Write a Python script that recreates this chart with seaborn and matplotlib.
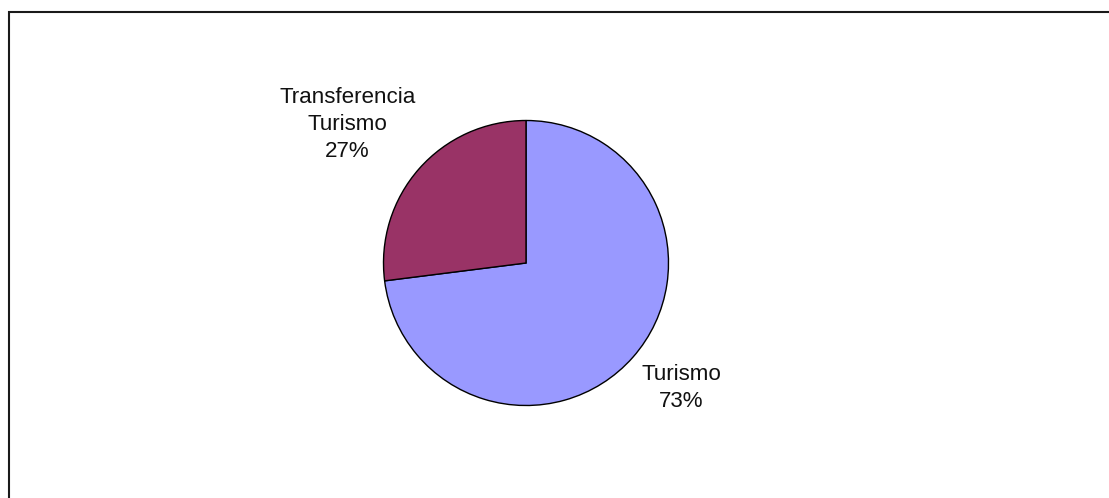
import numpy as np
import matplotlib
matplotlib.use("Agg")
import matplotlib.pyplot as plt
import matplotlib.patches as mpatches
import seaborn as sns

# data
labels = ["Turismo", "Transferencia\nTurismo"]
shares = [73, 27]
colors = ["#9999FF", "#993366"]

sns.set_style("white")
plt.rcParams["font.family"] = ["Liberation Sans", "DejaVu Sans"]

W, H = 1109, 498
fig = plt.figure(figsize=(W / 100, H / 100), dpi=100)
ax = fig.add_axes([0, 0, 1, 1])

# pie centre / radius in pixel units (y measured from bottom)
cx, cy, r = 526, H - 263, 142.5
wedges, _ = ax.pie(shares, colors=colors, startangle=90, counterclock=False,
                   center=(cx, cy), radius=r,
                   wedgeprops=dict(edgecolor="black", linewidth=1.0))

# Excel-like label placement: distance (in radii) and small angle tweak
label_pos = [(1.40, 2.5), (1.585, 3.6)]
for w, lab, s, (dist, dang) in zip(wedges, labels, shares, label_pos):
    mid = np.deg2rad((w.theta1 + w.theta2) / 2 + dang)
    x = cx + dist * r * np.cos(mid)
    y = cy + dist * r * np.sin(mid)
    ax.text(x, y, f"{lab}\n{s}%", ha="center", va="center",
            fontsize=16.1, color="#111111", linespacing=1.38)

# chart-area frame (runs off the right and bottom edges)
ax.add_patch(mpatches.Rectangle((8.5, -20), W + 50, H - 11.5 + 20,
                                fill=False, edgecolor="#1a1a1a", linewidth=1.5))

ax.set_xlim(0, W)
ax.set_ylim(0, H)
ax.set_aspect("auto")
ax.axis("off")

fig.savefig("out.png", dpi=100, facecolor="white")
